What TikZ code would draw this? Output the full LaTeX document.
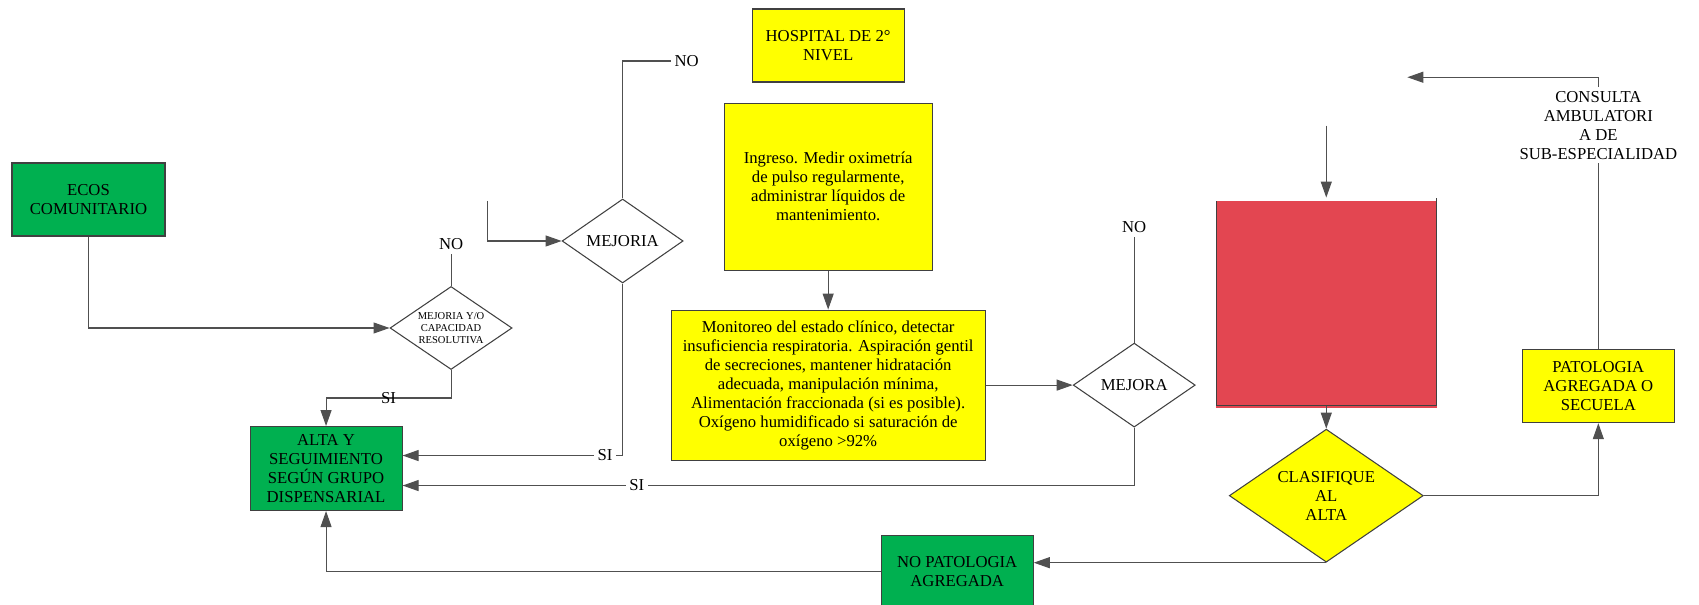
\documentclass[tikz,border=0pt]{standalone}
\usepackage{fontspec}
\setmainfont{Liberation Serif}
\usepackage{tikz}
\usetikzlibrary{positioning,arrows.meta,shapes.geometric}

\definecolor{verde}{RGB}{0,176,80}
\definecolor{amarillo}{RGB}{255,255,0}
\definecolor{rojo}{RGB}{227,70,81}
\definecolor{borde}{RGB}{64,64,64}
\definecolor{gris}{RGB}{80,80,80}

\newcommand{\fsz}{\fontsize{9.5}{10.8}\selectfont}
\newcommand{\fchico}{\fontsize{6}{6.7}\selectfont}

\begin{document}
\begin{tikzpicture}[node distance=1cm,
    caja/.style={draw=borde, line width=0.6pt, inner sep=2pt, align=center, font=\fsz},
    rombo/.style={diamond, aspect=1.46, draw=borde, line width=0.6pt, inner sep=0pt, align=center, font=\fsz},
    etiq/.style={inner sep=2pt, font=\fsz},
    trazo/.style={draw=gris, line width=0.6pt},
    flecha/.style={trazo, -{Triangle[length=0.32cm,width=0.22cm]}}]

    \useasboundingbox (0,0) rectangle (33.98,12.1);

    \node (1) [caja, fill=verde, minimum width=3.06cm, minimum height=1.46cm] at (1.77,8.11) {ECOS\\COMUNITARIO};
    \node (2) [rombo, font=\fchico, minimum width=2.44cm, minimum height=1.66cm, right=4.48cm of 1, yshift=-2.57cm] {MEJORIA Y/O\\CAPACIDAD\\RESOLUTIVA};
    \node (3) [caja, fill=verde, minimum width=3.04cm, minimum height=1.68cm, below=1.12cm of 2, xshift=-2.5cm] {ALTA Y\\SEGUIMIENTO\\SEGÚN GRUPO\\DISPENSARIAL};
    \node (4) [rombo, minimum width=2.42cm, minimum height=1.68cm, right=0.98cm of 2, yshift=1.74cm] {MEJORIA};
    \node (5) [caja, fill=amarillo, minimum width=3.04cm, minimum height=1.46cm, right=1.36cm of 4, yshift=3.91cm] {HOSPITAL DE 2°\\NIVEL};
    \node (6) [caja, fill=amarillo, minimum width=4.16cm, minimum height=3.34cm, below=0.4cm of 5] {Ingreso. Medir oximetría\\de pulso regularmente,\\administrar líquidos de\\mantenimiento.};
    \node (7) [caja, fill=amarillo, minimum width=6.28cm, minimum height=3cm, below=0.78cm of 6] {Monitoreo del estado clínico, detectar\\insuficiencia respiratoria. Aspiración gentil\\de secreciones, mantener hidratación\\adecuada, manipulación mínima,\\Alimentación fraccionada (si es posible).\\Oxígeno humidificado si saturación de\\oxígeno >92\%};
    \node (8) [rombo, minimum width=2.44cm, minimum height=1.68cm, right=1.74cm of 7] {MEJORA};
    \node (9) [caja, fill=rojo, minimum width=4.4cm, minimum height=4.14cm, right=0.4cm of 8, yshift=1.67cm] {};
    \fill[white] ([shift={(0.3pt,-0.3pt)}]9.north west) rectangle ([shift={(-0.3pt,-0.06cm)}]9.north east);
    \fill[rojo] ([yshift=-0.3pt]9.south west) rectangle ([yshift=-0.05cm]9.south east);
    \node (10) [rombo, fill=amarillo, minimum width=3.88cm, minimum height=2.66cm, below=0.46cm of 9] {CLASIFIQUE\\AL\\ALTA};
    \node (11) [caja, fill=verde, minimum width=3.04cm, minimum height=1.42cm, left=3.9cm of 10, yshift=-1.51cm] {NO PATOLOGIA\\AGREGADA};
    \node (12) [caja, fill=amarillo, minimum width=3.04cm, minimum height=1.46cm, right=1.96cm of 10, yshift=2.19cm] {PATOLOGIA\\AGREGADA O\\SECUELA};
    \node (13) [etiq, align=center, above=3.72cm of 12] {CONSULTA\\AMBULATORI\\A DE\\SUB-ESPECIALIDAD};

    \node (n1) [etiq, above=0.64cm of 2] {NO};
    \node (n2) [etiq, above=2.56cm of 4, xshift=1.28cm] {NO};
    \node (n3) [etiq, above=2.12cm of 8] {NO};

    \coordinate (c1) at ([xshift=-1.48cm, yshift=0.8cm]4.west);
    \coordinate (c2) at ([yshift=1.44cm]9.north);
    \coordinate (c3) at ([xshift=-3.82cm, yshift=0.2cm]13.north);

    \draw[flecha] (1) |- (2);
    \draw[trazo] (2) -- (n1);
    \draw[flecha] (2.south) -- ++(0,-0.56) -| (3.north) node[etiq, pos=0.25] {SI};
    \draw[flecha] (c1) |- (4);
    \draw[trazo] (4) |- (n2);
    \draw[flecha] (4.south) |- ([yshift=0.26cm]3.east) node[etiq, fill=white, pos=0.54] {SI};
    \draw[flecha] (6) -- (7);
    \draw[flecha] (7) -- (8);
    \draw[trazo] (8) -- (n3);
    \draw[flecha] (8.south) |- ([yshift=-0.34cm]3.east) node[etiq, fill=white, pos=0.84] {SI};
    \draw[flecha] (c2) -- (9);
    \draw[flecha] (9) -- (10);
    \draw[flecha] (10.south) -- (10.south -| 11.east);
    \draw[flecha] (11) -| (3);
    \draw[flecha] (10) -| (12);
    \draw[trazo] (12) -- (13);
    \draw[flecha] (13) |- (c3);

\end{tikzpicture}
\end{document}
